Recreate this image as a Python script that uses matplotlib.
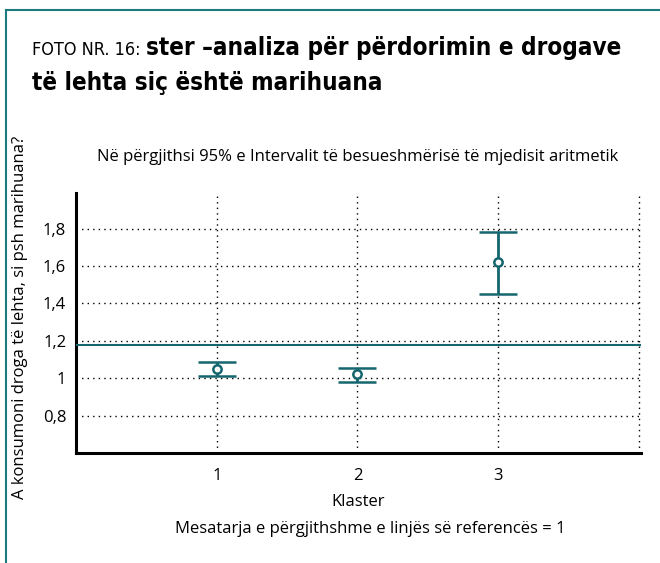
import matplotlib
matplotlib.use("Agg")
import matplotlib.pyplot as plt
from matplotlib.lines import Line2D

# data
clusters = [1, 2, 3]
means = [1.05, 1.02, 1.62]
ci_low = [1.012, 0.977, 1.45]
ci_high = [1.086, 1.057, 1.78]
ref_value = 1.18
yticks = [0.8, 1.0, 1.2, 1.4, 1.6, 1.8]
ytick_labels = ["0,8", "1", "1,2", "1,4", "1,6", "1,8"]

teal = "#15666e"
frame = "#1f7a80"
font = ["Open Sans", "DejaVu Sans"]

fig = plt.figure(figsize=(6.6, 5.63), dpi=100)

# frame lines (left and top only)
fig.add_artist(Line2D([6 / 660, 6 / 660], [0, 1 - 10 / 563], color=frame, lw=1.5))
fig.add_artist(Line2D([6 / 660, 1], [1 - 10 / 563, 1 - 10 / 563], color=frame, lw=1.5))

# title
t1 = fig.text(32 / 660, 1 - 55 / 563, "FOTO NR. 16:", fontsize=13,
              family="DejaVu Sans", fontstretch="condensed", va="baseline")
fig.canvas.draw()
bb = t1.get_window_extent()
fig.text((bb.x1 + 6) / 660, 1 - 55 / 563, "ster \u2013analiza për përdorimin e drogave",
         fontsize=17.4, fontweight="bold", family="DejaVu Sans",
         fontstretch="condensed", va="baseline")
fig.text(32 / 660, 1 - 90 / 563, "të lehta siç është marihuana",
         fontsize=17.4, fontweight="bold", family="DejaVu Sans",
         fontstretch="condensed", va="baseline")

ax = fig.add_axes([76 / 660, 110 / 563, 565 / 660, 260 / 563])

lower = [m - l for m, l in zip(means, ci_low)]
upper = [h - m for m, h in zip(means, ci_high)]
ax.errorbar(clusters, means, yerr=[lower, upper], fmt="o", mfc="white",
            mec=teal, mew=1.8, ms=6, color=teal, ecolor=teal,
            elinewidth=2, capsize=13.5, capthick=2.5, zorder=4)
ax.axhline(ref_value, color=teal, lw=1.5, zorder=3)

ax.set_xlim(0, 4.015)
ax.set_ylim(0.6, 1.99)
ax.set_xticks([1, 2, 3, 4])
ax.set_xticklabels(["1", "2", "3", ""], family=font, fontsize=12)
ax.set_yticks(yticks)
ax.set_yticklabels(ytick_labels, family=font, fontsize=12)
ax.tick_params(axis="x", length=0, pad=11)
ax.tick_params(axis="y", length=0, pad=7)
ax.grid(True, color="black", linestyle=(0, (1, 3)), lw=1)

for side in ["top", "right"]:
    ax.spines[side].set_visible(False)
for side in ["left", "bottom"]:
    ax.spines[side].set_linewidth(2.2)

ax.set_xlabel("Klaster", family=font, fontsize=12, labelpad=7)
ax.set_ylabel("A konsumoni droga të lehta, si psh marihuana?",
              family=font, fontsize=12)
ax.yaxis.set_label_coords(-0.085, 0.52)

fig.text(358 / 660, 1 - 157 / 563,
         "Në përgjithsi 95% e Intervalit të besueshmërisë të mjedisit aritmetik",
         family=font, fontsize=12, ha="center", va="center")
fig.text(370 / 660, 1 - 529 / 563,
         "Mesatarja e përgjithshme e linjës së referencës = 1",
         family=font, fontsize=12, ha="center", va="center")

fig.savefig("out.png", dpi=100)
